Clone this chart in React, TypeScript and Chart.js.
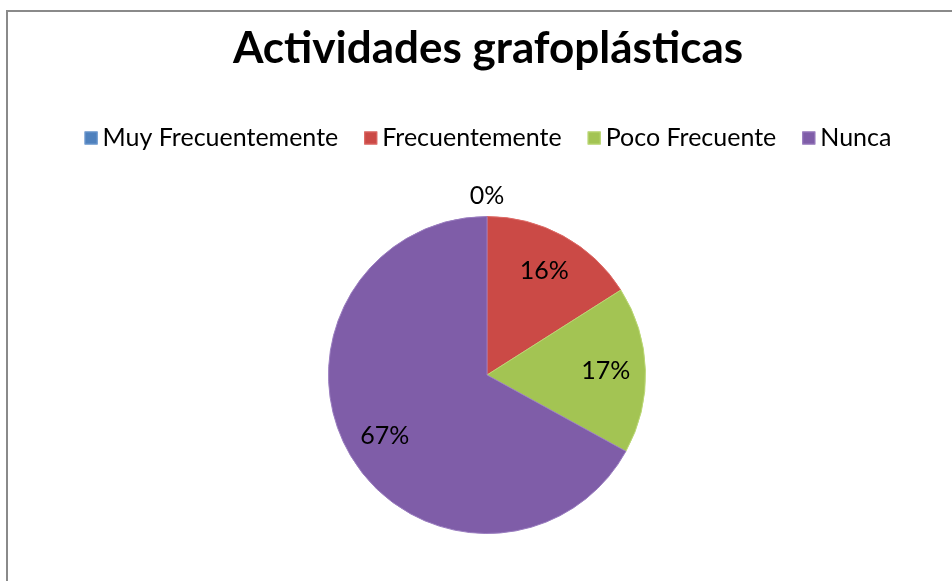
import React, { useEffect, useRef } from "react";
import { Chart, registerables } from "chart.js";

Chart.register(...registerables);

const TITLE = "Actividades grafoplásticas";
const categories = ["Muy Frecuentemente", "Frecuentemente", "Poco Frecuente", "Nunca"];
const values = [0, 16, 17, 67];
const colors = ["#4F81BD", "#CB4A46", "#A3C453", "#7F5DA8"];
const borders = ["#6F9AD0", "#DE6A66", "#BBD875", "#9A7DC0"];

const FONT = "Lato, 'Open Sans', sans-serif";

const decorPlugin = {
  id: "decor",
  beforeDraw(chart: any) {
    const ctx = chart.ctx;
    ctx.save();
    ctx.fillStyle = "#ffffff";
    ctx.fillRect(0, 0, chart.width, chart.height);
    ctx.strokeStyle = "#8a8a8a";
    ctx.lineWidth = 2;
    ctx.beginPath();
    ctx.moveTo(7, chart.height);
    ctx.lineTo(7, 11);
    ctx.lineTo(chart.width, 11);
    ctx.stroke();
    ctx.restore();
  },
  afterDraw(chart: any) {
    const ctx = chart.ctx;
    ctx.save();
    // title
    ctx.fillStyle = "#000";
    ctx.font = `bold 44px ${FONT}`;
    ctx.textAlign = "center";
    ctx.textBaseline = "middle";
    ctx.fillText(TITLE, 488, 49);

    // legend
    const labels: string[] = chart.data.labels;
    const ds = chart.data.datasets[0];
    ctx.font = `25px ${FONT}`;
    const box = 13;
    const gapBoxText = 5;
    const gapItems = 26;
    const widths = labels.map((l) => ctx.measureText(l).width);
    const total =
      widths.reduce((a, w) => a + box + gapBoxText + w, 0) + gapItems * (labels.length - 1);
    let x = 488 - total / 2;
    const ly = 138;
    ctx.textAlign = "left";
    labels.forEach((l, i) => {
      ctx.fillStyle = ds.backgroundColor[i];
      ctx.fillRect(x, ly - box / 2, box, box);
      ctx.strokeStyle = ds.borderColor[i];
      ctx.lineWidth = 1;
      ctx.strokeRect(x + 0.5, ly - box / 2 + 0.5, box - 1, box - 1);
      ctx.fillStyle = "#000";
      ctx.fillText(l, x + box + gapBoxText, ly);
      x += box + gapBoxText + widths[i] + gapItems;
    });

    // data labels
    const meta = chart.getDatasetMeta(0);
    const data: number[] = ds.data;
    const sum = data.reduce((a, b) => a + b, 0);
    ctx.font = `25px ${FONT}`;
    ctx.textAlign = "center";
    ctx.fillStyle = "#000";
    meta.data.forEach((arc: any, i: number) => {
      const p = arc.getProps(["x", "y", "startAngle", "endAngle", "outerRadius"], true);
      const mid = (p.startAngle + p.endAngle) / 2;
      const r = data[i] === 0 ? p.outerRadius + 21 : p.outerRadius * 0.75;
      const tx = p.x + Math.cos(mid) * r;
      const ty = p.y + Math.sin(mid) * r;
      const pct = Math.round((data[i] / sum) * 100);
      ctx.fillText(`${pct}%`, tx, ty);
    });
    ctx.restore();
  },
};

export default function App() {
  const ref = useRef<HTMLCanvasElement>(null);
  useEffect(() => {
    document.body.style.margin = "0";
    if (!ref.current) return;
    const chart = new Chart(ref.current, {
      type: "pie",
      data: {
        labels: categories,
        datasets: [
          {
            data: values,
            backgroundColor: colors,
            borderColor: borders,
            borderWidth: 1,
          },
        ],
      },
      options: {
        responsive: false,
        animation: false,
        layout: { padding: { top: 216, bottom: 47, left: 22, right: 0 } },
        plugins: {
          legend: { display: false },
          title: { display: false },
          tooltip: { enabled: false },
        },
      },
      plugins: [decorPlugin],
    });
    return () => chart.destroy();
  }, []);
  return <canvas ref={ref} width={952} height={581} style={{ display: "block" }} />;
}
